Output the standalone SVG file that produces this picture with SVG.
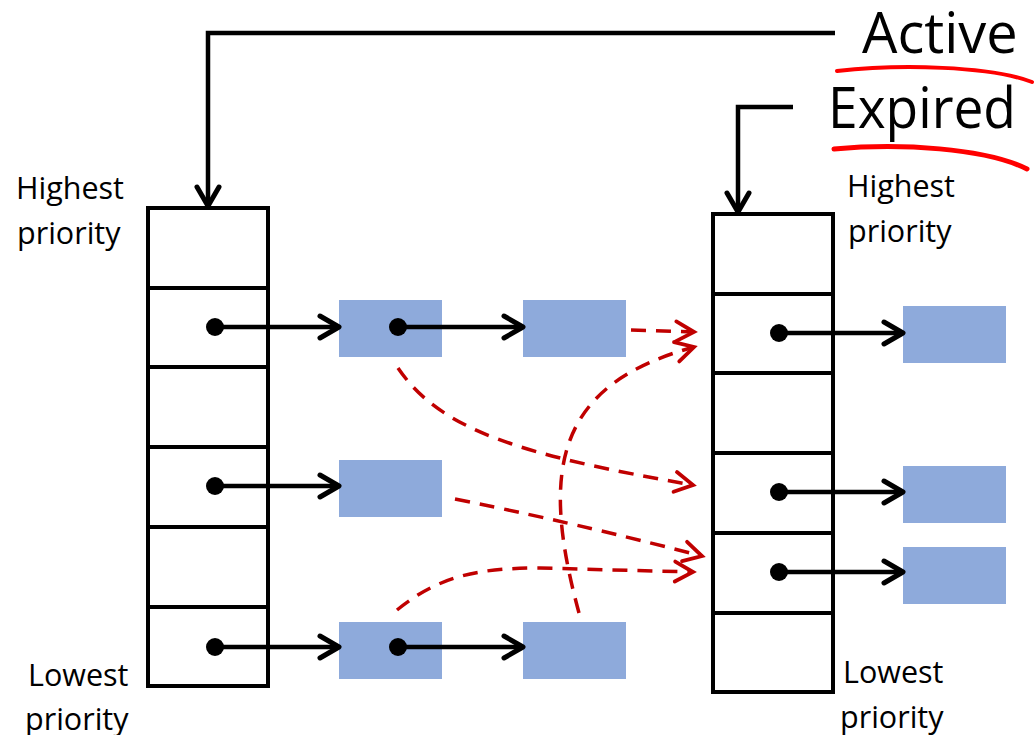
<svg xmlns="http://www.w3.org/2000/svg" width="1035" height="735" viewBox="0 0 1035 735">
<style>
.col{fill:#fff;stroke:#000;stroke-width:4}
.row{stroke:#000;stroke-width:4}
.blk{fill:#8eaadb}
.ptr{stroke:#000;stroke-width:4.5;fill:none;marker-end:url(#chev)}
.dot{fill:#000}
.red{stroke:#c00000;stroke-width:3.5;fill:none;stroke-dasharray:15 10;marker-end:url(#rchev)}
.lbl{font-family:"Open Sans","Liberation Sans",sans-serif;font-size:30.5px;fill:#000}
.big{font-family:"Open Sans","Liberation Sans",sans-serif;font-size:56px;fill:#000}
.ink{stroke:#ff0000;fill:none;stroke-linecap:round}
</style>
<defs>
<marker id="chev" markerUnits="userSpaceOnUse" viewBox="-26 -16 32 32" refX="0" refY="0" markerWidth="32" markerHeight="32" orient="auto">
<path d="M-19,-11 L0,0 L-19,11" fill="none" stroke="#000" stroke-width="5" stroke-linecap="round" stroke-linejoin="round"/>
</marker>
<marker id="rchev" markerUnits="userSpaceOnUse" viewBox="-26 -16 32 32" refX="0" refY="0" markerWidth="32" markerHeight="32" orient="auto">
<path d="M-18,-10 L0,0 L-18,10" fill="none" stroke="#c00000" stroke-width="3.8" stroke-linecap="round" stroke-linejoin="miter"/>
</marker>
</defs>

<g id="active-queue">
<rect class="col" x="148" y="208" width="120" height="478"/>
<line class="row" x1="148" y1="288" x2="268" y2="288"/>
<line class="row" x1="148" y1="367" x2="268" y2="367"/>
<line class="row" x1="148" y1="447" x2="268" y2="447"/>
<line class="row" x1="148" y1="527" x2="268" y2="527"/>
<line class="row" x1="148" y1="607" x2="268" y2="607"/>
</g>

<g id="expired-queue">
<rect class="col" x="713" y="214" width="120" height="478"/>
<line class="row" x1="713" y1="294" x2="833" y2="294"/>
<line class="row" x1="713" y1="373" x2="833" y2="373"/>
<line class="row" x1="713" y1="453" x2="833" y2="453"/>
<line class="row" x1="713" y1="533" x2="833" y2="533"/>
<line class="row" x1="713" y1="613" x2="833" y2="613"/>
</g>

<g id="task-a1"><rect class="blk" x="339" y="300" width="103" height="57"/></g>
<g id="task-a2"><rect class="blk" x="523" y="300" width="103" height="57"/></g>
<g id="task-b1"><rect class="blk" x="339" y="460" width="103" height="57"/></g>
<g id="task-c1"><rect class="blk" x="339" y="622" width="103" height="57"/></g>
<g id="task-c2"><rect class="blk" x="523" y="622" width="103" height="57"/></g>
<g id="task-e1"><rect class="blk" x="903" y="306" width="103" height="57"/></g>
<g id="task-e2"><rect class="blk" x="903" y="466" width="103" height="57"/></g>
<g id="task-e3"><rect class="blk" x="903" y="547" width="103" height="57"/></g>

<g id="labels">
<text class="lbl" x="16" y="199">Highest</text>
<text class="lbl" x="17" y="244">priority</text>
<text class="lbl" x="28" y="686">Lowest</text>
<text class="lbl" x="25" y="730">priority</text>
<text class="lbl" x="847" y="197">Highest</text>
<text class="lbl" x="848" y="242">priority</text>
<text class="lbl" x="843" y="683">Lowest</text>
<text class="lbl" x="840" y="728">priority</text>
</g>

<g id="active-label"><text class="big" x="862" y="53">Active</text></g>
<g id="expired-label"><text class="big" x="828" y="128" textLength="188" lengthAdjust="spacingAndGlyphs">Expired</text></g>

<g id="annotations">
<path class="ink" stroke-width="4" d="M837,71 C900,64 990,66 1032,82"/>
<path class="ink" stroke-width="5" d="M834,149 C900,143 985,148 1027,169"/>
</g>

<g id="connectors">
<polyline class="ptr" points="835,33 208,33 208,206"/>
<polyline class="ptr" points="793,107 738,107 738,212"/>

<line class="ptr" x1="215" y1="327" x2="339" y2="327"/>
<line class="ptr" x1="398" y1="327" x2="523" y2="327"/>
<line class="ptr" x1="215" y1="486" x2="339" y2="486"/>
<line class="ptr" x1="215" y1="647" x2="339" y2="647"/>
<line class="ptr" x1="398" y1="647" x2="523" y2="647"/>
<line class="ptr" x1="779" y1="333" x2="903" y2="333"/>
<line class="ptr" x1="779" y1="492" x2="903" y2="492"/>
<line class="ptr" x1="779" y1="572" x2="903" y2="572"/>
<circle class="dot" cx="215" cy="327" r="9"/>
<circle class="dot" cx="398" cy="327" r="9"/>
<circle class="dot" cx="215" cy="486" r="9"/>
<circle class="dot" cx="215" cy="647" r="9"/>
<circle class="dot" cx="398" cy="647" r="9"/>
<circle class="dot" cx="779" cy="333" r="9"/>
<circle class="dot" cx="779" cy="492" r="9"/>
<circle class="dot" cx="779" cy="572" r="9"/>

<path class="red" d="M631,330 L694,332"/>
<path class="red" d="M579,613 C540,470 555,385 694,347"/>
<path class="red" d="M398,368 C440,430 520,455 693,485"/>
<path class="red" d="M455,499 C560,520 640,540 702,556"/>
<path class="red" d="M397,610 C440,575 480,568 540,568 L693,572"/>
</g>
</svg>
